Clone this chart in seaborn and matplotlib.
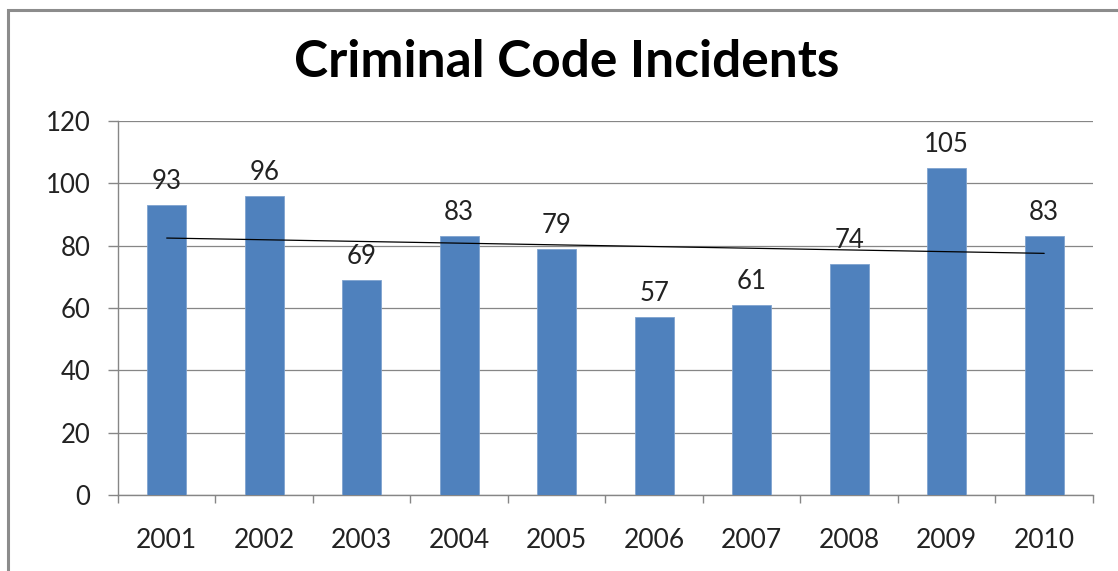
import numpy as np
import pandas as pd
import matplotlib
matplotlib.use("Agg")
import matplotlib.pyplot as plt
from matplotlib.patches import Rectangle
import seaborn as sns

years = ["2001", "2002", "2003", "2004", "2005", "2006", "2007", "2008", "2009", "2010"]
incidents = [93, 96, 69, 83, 79, 57, 61, 74, 105, 83]
y_ticks = [0, 20, 40, 60, 80, 100, 120]

sns.set_style("white")
plt.rcParams["font.family"] = ["Lato", "DejaVu Sans"]

BAR = "#4F81BD"
AXIS = "#868686"
TEXT = "#222222"

df = pd.DataFrame({"year": years, "incidents": incidents})

fig = plt.figure(figsize=(11.18, 5.71), dpi=100)
ax = fig.add_axes([0.1055, 0.1331, 0.8721, 0.6549])

sns.barplot(data=df, x="year", y="incidents", color=BAR, width=0.4,
            saturation=1, edgecolor="#7FA3CF", linewidth=0.6, ax=ax, zorder=3)

# linear trend line across the yearly values
sns.regplot(x=np.arange(len(incidents)), y=np.array(incidents, dtype=float),
            scatter=False, ci=None, truncate=True, ax=ax,
            line_kws={"color": "black", "linewidth": 0.9, "zorder": 4})

ax.bar_label(ax.containers[0], labels=[str(v) for v in incidents],
             padding=8, fontsize=18.5, color=TEXT)

ax.set_ylim(0, 120)
ax.set_xlim(-0.5, len(years) - 0.5)
ax.set_yticks(y_ticks)
ax.set_xlabel("")
ax.set_ylabel("")

ax.yaxis.grid(True, color=AXIS, linewidth=0.9, zorder=0)
ax.set_axisbelow(True)

for side in ("top", "right"):
    ax.spines[side].set_visible(False)
for side in ("left", "bottom"):
    ax.spines[side].set_color(AXIS)
    ax.spines[side].set_linewidth(1.0)

ax.tick_params(axis="y", which="major", direction="out", length=7, width=1.0,
               color=AXIS, labelsize=18.5, labelcolor=TEXT, pad=13, left=True)
ax.tick_params(axis="x", which="major", length=0, labelsize=19,
               labelcolor=TEXT, pad=24)
ax.set_xticks(np.arange(-0.5, len(years), 1.0), minor=True)
ax.tick_params(axis="x", which="minor", direction="out", length=6, width=1.0,
               color=AXIS, bottom=True)

fig.text(0.507, 0.891, "Criminal Code Incidents", ha="center", va="center",
         fontsize=37, fontweight="bold", color="black")

# chart area frame
fig.patches.append(Rectangle((8 / 1118, -0.1), 1.2, (571 - 10) / 571 + 0.1,
                             transform=fig.transFigure, fill=False,
                             edgecolor="#8C8C8C", linewidth=2.2))

fig.savefig("out.png", dpi=100)
